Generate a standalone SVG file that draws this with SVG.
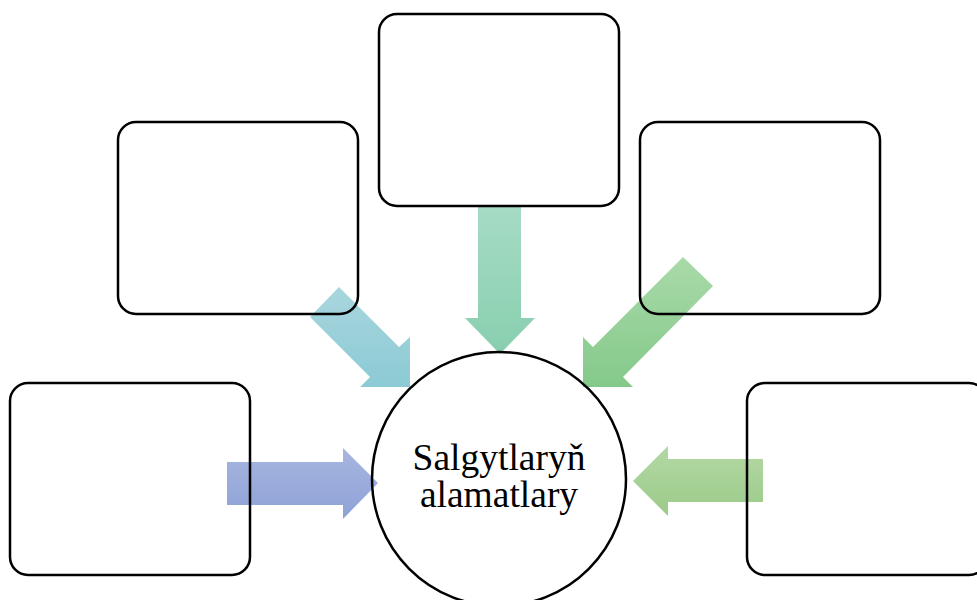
<svg xmlns="http://www.w3.org/2000/svg" width="977" height="600" viewBox="0 0 977 600">
<defs>
<linearGradient id="gTeal" x1="0" y1="0" x2="0" y2="1"><stop offset="0" stop-color="#a9d6de"/><stop offset="1" stop-color="#8bcad4"/></linearGradient>
<linearGradient id="gMint" x1="0" y1="0" x2="0" y2="1"><stop offset="0" stop-color="#a6dbc5"/><stop offset="1" stop-color="#88cfae"/></linearGradient>
<linearGradient id="gGreen" x1="0" y1="0" x2="0" y2="1"><stop offset="0" stop-color="#a9daa9"/><stop offset="1" stop-color="#84c98a"/></linearGradient>
<linearGradient id="gBlue" x1="0" y1="0" x2="0" y2="1"><stop offset="0" stop-color="#a7b6e0"/><stop offset="1" stop-color="#8ea2d6"/></linearGradient>
<linearGradient id="gLime" x1="0" y1="0" x2="0" y2="1"><stop offset="0" stop-color="#b3d8a3"/><stop offset="1" stop-color="#9ccb8a"/></linearGradient>
</defs>
<style>
.box{fill:none;stroke:#000;stroke-width:2.5}
.hub{fill:none;stroke:#000;stroke-width:2.5}
.lbl{font-family:"Liberation Serif","Times New Roman",serif;font-size:37.5px;fill:#000;text-anchor:middle}
</style>
<g id="connectors">
<polygon points="339,287 399,347 410,337 410,387 360,387 370,377 310,317" fill="url(#gTeal)"/>
<polygon points="478,206 521,206 521,318 535,318 500,354 465,318 478,318" fill="url(#gMint)"/>
<polygon points="683,257 713,286 623,377 633,387 583,387 583,337 593,347" fill="url(#gGreen)"/>
<polygon points="227,462 343,462 343,448 378,483 343,519 343,505 227,505" fill="url(#gBlue)"/>
<polygon points="763,459 668,459 668,446 633,481 668,516 668,502 763,502" fill="url(#gLime)"/>
</g>
<g id="box-top"><rect class="box" x="379" y="14" width="240" height="192" rx="18"/></g>
<g id="box-upper-left"><rect class="box" x="118" y="122" width="240" height="192" rx="18"/></g>
<g id="box-upper-right"><rect class="box" x="640" y="122" width="240" height="192" rx="18"/></g>
<g id="box-lower-left"><rect class="box" x="10" y="383" width="240" height="192" rx="18"/></g>
<g id="box-lower-right"><rect class="box" x="747" y="383" width="240" height="192" rx="18"/></g>
<g id="hub">
<circle class="hub" cx="499" cy="479" r="127"/>
<text class="lbl" x="499" y="470">Salgytlaryň</text>
<text class="lbl" x="499" y="507">alamatlary</text>
</g>
</svg>
